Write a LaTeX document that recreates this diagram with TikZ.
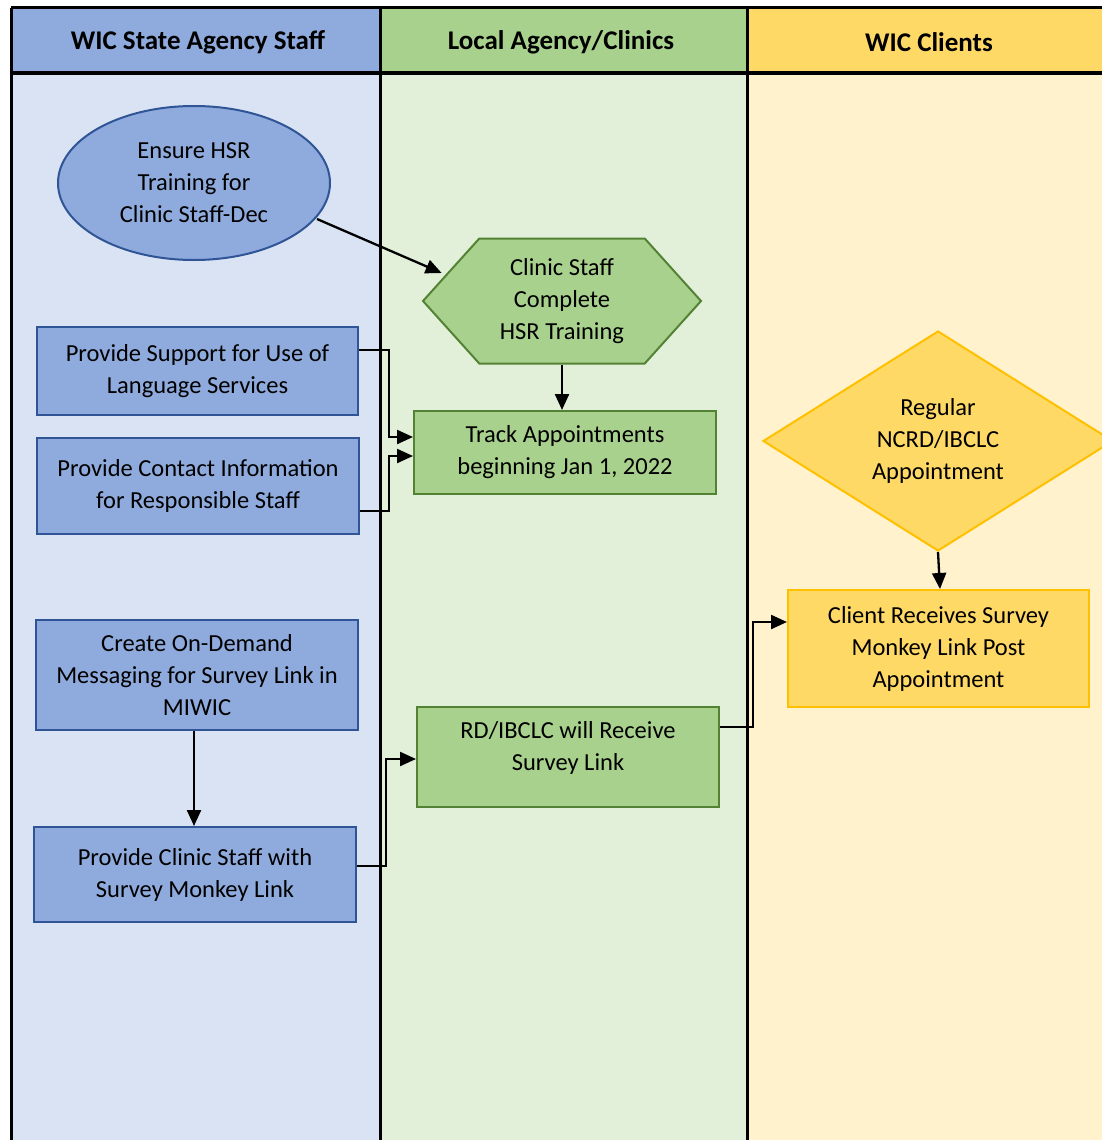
\documentclass[tikz,border=0pt]{standalone}
\usepackage{fontspec}
\setmainfont{Carlito}
\usetikzlibrary{shapes.geometric,shapes.symbols,arrows.meta}
\definecolor{bluehead}{HTML}{8FAADC}
\definecolor{bluebody}{HTML}{DAE3F3}
\definecolor{blueline}{HTML}{2F5597}
\definecolor{greenhead}{HTML}{A9D18E}
\definecolor{greenbody}{HTML}{E2F0D9}
\definecolor{greenline}{HTML}{548235}
\definecolor{yellowhead}{HTML}{FFD966}
\definecolor{yellowbody}{HTML}{FFF2CC}
\definecolor{yellowline}{HTML}{FFC000}

\begin{document}
\begin{tikzpicture}[x=1pt,y=-1pt,
  font=\fontsize{24.5}{32}\selectfont,
  statebox/.style={draw=blueline,fill=bluehead,line width=2pt,align=center,inner sep=0pt},
  localbox/.style={draw=greenline,fill=greenhead,line width=2pt,align=center,inner sep=0pt},
  clientbox/.style={draw=yellowline,fill=yellowhead,line width=2pt,align=center,inner sep=0pt},
  lanehead/.style={font=\fontsize{27}{30}\selectfont\bfseries},
  arr/.style={line width=2.3pt,-{Triangle[length=16pt,width=14pt]}},
  lane/.style={line width=3pt}]
\useasboundingbox (0,0) rectangle (1102,1140);
\clip (0,0) rectangle (1102,1140);
% lanes
\fill [bluebody]   (11,8) rectangle (380,1150);
\fill [greenbody]  (380,8) rectangle (747,1150);
\fill [yellowbody] (747,8) rectangle (1120,1150);
\fill [bluehead]   (11,8) rectangle (380,73);
\fill [greenhead]  (380,8) rectangle (747,73);
\fill [yellowhead] (747,8) rectangle (1120,73);
\node [lanehead] (hstate)  at (198,42) {WIC State Agency Staff};
\node [lanehead] (hlocal)  at (561,42) {Local Agency/Clinics};
\node [lanehead] (hclient) at (929,42) {WIC Clients};
\draw [lane] (11,8) -- (1120,8);
\draw [lane] (11,73) -- (1120,73);
\draw [lane] (11,8) -- (11,1150);
\draw [lane] (380,8) -- (380,1150);
\draw [lane] (747,8) -- (747,1150);

% state agency staff
\node [statebox,ellipse,minimum width=272pt,minimum height=154pt] (ensure) at (194,183)
  {Ensure HSR\\Training for\\Clinic Staff-Dec};
\node [statebox,minimum width=321pt,minimum height=88pt] (support) at (197.5,371)
  {Provide Support for Use of\\Language Services};
\node [statebox,minimum width=322pt,minimum height=96pt] (contact) at (198,486)
  {Provide Contact Information\\for Responsible Staff};
\node [statebox,minimum width=322pt,minimum height=110pt] (create) at (197,675)
  {Create On-Demand\\Messaging for Survey Link in\\MIWIC};
\node [statebox,minimum width=322pt,minimum height=95pt] (provide) at (195,874.5)
  {Provide Clinic Staff with\\Survey Monkey Link};

% local agency
\node [localbox,signal,signal to=west and east,signal pointer angle=96,
  minimum width=278pt,minimum height=125pt] (complete) at (562,301)
  {Clinic Staff\\Complete\\HSR Training};
\node [localbox,minimum width=302pt,minimum height=83pt] (track) at (565,452.5)
  {Track Appointments\\beginning Jan 1, 2022};
\node [localbox,minimum width=302pt,minimum height=100pt,text depth=22pt] (receive) at (568,757)
  {RD/IBCLC will Receive\\Survey Link};

% clients
\node [clientbox,diamond,aspect=1.59,minimum width=350pt,minimum height=220pt] (regular) at (938,441)
  {Regular\\NCRD/IBCLC\\Appointment};
\node [clientbox,minimum width=301pt,minimum height=117pt] (client) at (938.5,648.5)
  {Client Receives Survey\\Monkey Link Post\\Appointment};

% arrows
\draw [arr] ([xshift=-14pt,yshift=-36pt]ensure.east) -- ([xshift=20pt,yshift=28pt]complete.west);
\draw [arr] (complete.south) -- (complete.south |- track.north);
\draw [arr] ([yshift=21pt]support.east) -- ++(30,0) |- ([yshift=15.5pt]track.west);
\draw [arr] ([yshift=-25pt]contact.east) -- ++(29,0) |- ([yshift=-3.5pt]track.west);
\draw [arr] ([xshift=-1pt]create.south -| provide) -- ([xshift=-1pt]provide.north);
\draw [arr] ([yshift=8.5pt]provide.east) -- ++(29,0) |- ([yshift=-2pt]receive.west);
\draw [arr] ([yshift=30pt]receive.east) -- ++(33,0) |- ([yshift=26.5pt]client.west);
\draw [arr] (regular.south) -- ([xshift=1.5pt]client.north);
\end{tikzpicture}
\end{document}
